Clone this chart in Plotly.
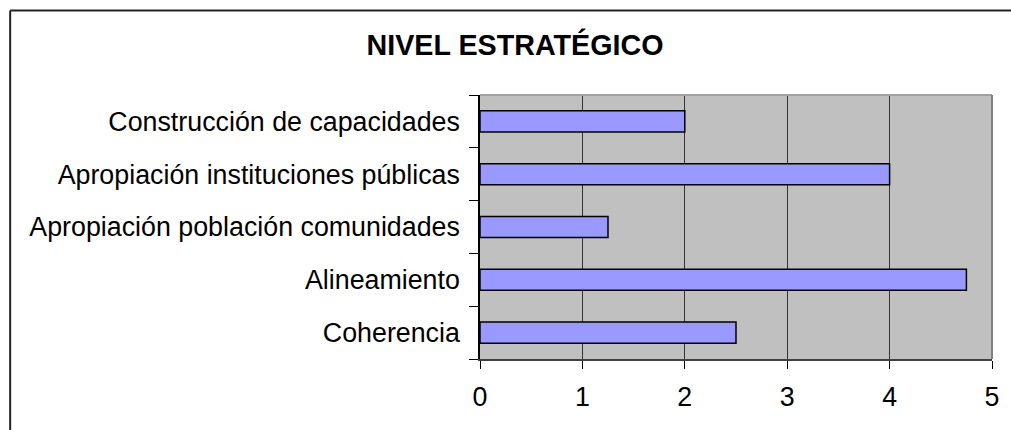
import plotly.graph_objects as go

categories = [
    "Coherencia",
    "Alineamiento",
    "Apropiación población comunidades",
    "Apropiación instituciones públicas",
    "Construcción de capacidades",
]
values = [2.5, 4.75, 1.25, 4, 2]
x_ticks = [0, 1, 2, 3, 4, 5]
title_text = "NIVEL ESTRATÉGICO"

W, H = 1011, 430
L, R, T, B = 480, 15, 95, 71
pw, ph = W - L - R, H - T - B

fig = go.Figure(go.Bar(
    x=values, y=categories, orientation="h",
    marker=dict(color="#9999FF", line=dict(color="black", width=1.5)),
))

def px_to_paper_x(p):
    return (p - L) / pw

def py_to_paper_y(p):
    return (H - B - p) / ph

frame_line = dict(color="#222222", width=2)

fig.update_layout(
    width=W, height=H,
    margin=dict(l=L, r=R, t=T, b=B),
    paper_bgcolor="white",
    plot_bgcolor="#C0C0C0",
    bargap=0.6,
    showlegend=False,
    font=dict(family="Liberation Sans, Arial", size=26.8, color="black"),
    title=dict(text="<b>" + title_text + "</b>", x=515 / W, xanchor="center",
               y=1 - 45 / H, yanchor="middle",
               font=dict(size=28.7, family="Liberation Sans, Arial", color="black")),
    xaxis=dict(range=[0, 5], tickvals=x_ticks, ticks="outside", ticklen=8,
               tickcolor="black", showgrid=True, gridcolor="#333333", gridwidth=1,
               showline=True, linecolor="#404040", linewidth=1.5, zeroline=False,
               ticklabelstandoff=5, fixedrange=True),
    yaxis=dict(type="category", categoryorder="array", categoryarray=categories,
               tickson="boundaries", ticks="outside", ticklen=9, tickcolor="black",
               showgrid=False, showline=True, linecolor="black", linewidth=1.5,
               ticklabelstandoff=13, fixedrange=True),
    shapes=[
        dict(type="line", xref="paper", yref="paper", x0=0, x1=1, y0=1, y1=1,
             line=dict(color="#A0A0A0", width=2)),
        dict(type="line", xref="paper", yref="paper", x0=1, x1=1, y0=0, y1=1,
             line=dict(color="#808080", width=2)),
        dict(type="line", xref="paper", yref="paper",
             x0=px_to_paper_x(6.5), x1=px_to_paper_x(W + 10),
             y0=py_to_paper_y(10.5), y1=py_to_paper_y(10.5),
             line=frame_line, layer="above"),
        dict(type="line", xref="paper", yref="paper",
             x0=px_to_paper_x(6.5), x1=px_to_paper_x(6.5),
             y0=py_to_paper_y(10.5), y1=py_to_paper_y(H + 10),
             line=frame_line, layer="above"),
    ],
)

fig.write_html("out.html", config={"displayModeBar": False}, full_html=True,
               post_script="document.body.style.margin='0';document.body.style.padding='0';document.documentElement.style.overflow='hidden';")
